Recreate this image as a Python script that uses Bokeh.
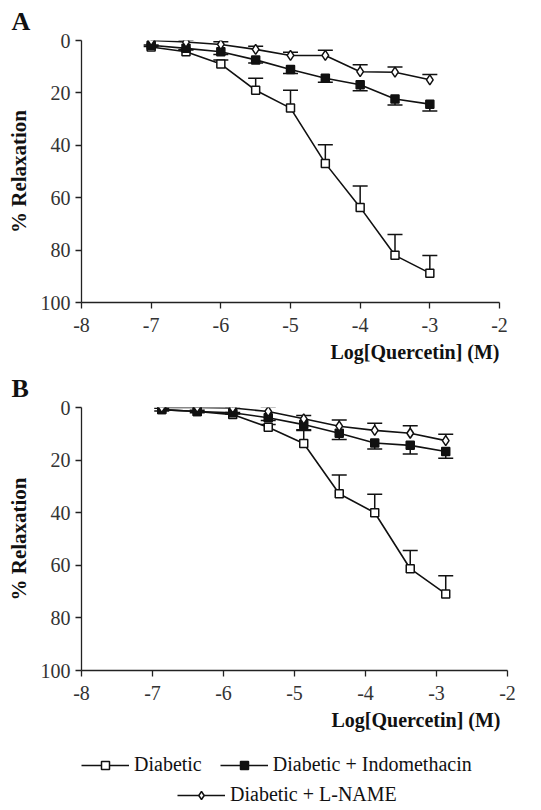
from bokeh.plotting import figure
from bokeh.models import (Range1d, Whisker, TeeHead, ColumnDataSource, Legend,
                          LegendItem, Title, FixedTicker)
from bokeh.layouts import column
from bokeh.embed import file_html
from bokeh.resources import INLINE

FONT = "Liberation Serif"

# ---------------- data ----------------
x_ticks = [-8, -7, -6, -5, -4, -3, -2]
x_tick_labels = ["-8", "-7", "-6", "-5", "-4", "-3", "-2"]
y_ticks = [0, 20, 40, 60, 80, 100]
y_tick_labels = ["0", "20", "40", "60", "80", "100"]

series_names = ["Diabetic", "Diabetic + Indomethacin", "Diabetic + L-NAME"]

# Panel A
logq_a = [-7, -6.5, -6, -5.5, -5, -4.5, -4, -3.5, -3]
diab_a = [2.5, 4.3, 9.0, 19.0, 25.8, 46.9, 63.7, 82.0, 88.8]
diab_a_err = [0.8, 0.8, 1.6, 4.6, 6.8, 7.1, 8.2, 8.0, 6.7]
indo_a = [1.8, 3.0, 4.3, 7.4, 11.1, 14.4, 16.9, 22.3, 24.3]
indo_a_err = [0.5, 0.5, 1.0, 1.2, 1.5, 1.5, 2.3, 2.3, 2.6]
lname_a = [0.0, 0.6, 1.5, 3.4, 5.7, 5.7, 11.9, 12.1, 15.0]
lname_a_err = [0.5, 0.8, 1.0, 1.2, 1.2, 2.0, 2.6, 2.0, 2.0]

# Panel B
logq_b = [-6.87, -6.37, -5.87, -5.37, -4.87, -4.37, -3.87, -3.37, -2.87]
diab_b = [0.8, 1.5, 2.7, 7.5, 13.7, 32.8, 40.0, 61.3, 70.9]
diab_b_err = [0.5, 0.5, 0.8, 1.0, 5.0, 7.1, 7.0, 6.9, 6.9]
indo_b = [0.8, 1.5, 2.0, 3.9, 6.5, 9.8, 13.5, 14.4, 16.7]
indo_b_err = [0.5, 0.5, 0.5, 1.0, 2.0, 2.4, 2.3, 3.3, 2.6]
lname_b = [0.0, 0.0, 0.2, 1.5, 4.3, 7.1, 8.7, 9.8, 12.6]
lname_b_err = [0.5, 0.5, 0.5, 1.8, 1.3, 2.3, 2.7, 2.9, 2.4]

LINE = "#111111"
MARKERS = [dict(marker="square", size=8, fill_color="white"),
           dict(marker="square", size=8, fill_color=LINE),
           dict(marker="diamond", size=10, fill_color="white")]


def panel(letter, xs, diab, diab_err, indo, indo_err, lname, lname_err,
          frame_w, frame_h, top, bottom, xlabel_offset):
    p = figure(frame_width=frame_w, frame_height=frame_h,
               x_range=Range1d(-8, -2), y_range=Range1d(100, 0),
               output_backend="svg", toolbar_location=None,
               min_border_left=81, min_border_right=18,
               min_border_top=top, min_border_bottom=bottom,
               background_fill_color="white", border_fill_color="white")
    p.outline_line_color = None
    p.grid.visible = False

    # panel letter as the (left-aligned) title
    p.title.text = letter
    p.title.align = "left"
    p.title.offset = -70
    p.title.standoff = 9
    p.title.text_font = FONT
    p.title.text_font_size = "26px"
    p.title.text_font_style = "bold"
    p.title.text_color = "#111111"

    p.xaxis.ticker = FixedTicker(ticks=x_ticks)
    p.xaxis.major_label_overrides = dict(zip(x_ticks, x_tick_labels))
    p.yaxis.ticker = FixedTicker(ticks=y_ticks)
    p.yaxis.major_label_overrides = dict(zip(y_ticks, y_tick_labels))
    for ax in (p.xaxis[0], p.yaxis[0]):
        ax.major_tick_out = 6
        ax.major_tick_in = 0
        ax.minor_tick_out = 0
        ax.minor_tick_in = 0
        ax.axis_line_color = "#222222"
        ax.axis_line_width = 1.3
        ax.major_tick_line_color = "#222222"
        ax.major_tick_line_width = 1.3
        ax.major_label_text_font = FONT
        ax.major_label_text_font_size = "20px"
        ax.major_label_text_color = "#333333"
        ax.axis_label_text_font = FONT
        ax.axis_label_text_font_style = "bold"
        ax.axis_label_text_color = "#111111"
        ax.axis_label_standoff = 7
    p.xaxis.major_label_standoff = 9
    p.yaxis.major_label_standoff = 5
    p.yaxis.axis_label = "% Relaxation"
    p.yaxis.axis_label_text_font_size = "21px"

    # x axis label, right-aligned under the axis end
    p.add_layout(Title(text="Log[Quercetin] (M)", align="right",
                       offset=xlabel_offset, standoff=9,
                       text_font=FONT, text_font_size="20px",
                       text_font_style="bold", text_color="#111111"), "below")

    srcs = []
    for ys, errs, down in ((diab, diab_err, False), (indo, indo_err, True),
                           (lname, lname_err, False)):
        if down:
            lo = list(ys)
            hi = [y + e for y, e in zip(ys, errs)]
        else:
            lo = [y - e for y, e in zip(ys, errs)]
            hi = list(ys)
        srcs.append(ColumnDataSource(dict(x=xs, y=ys, lo=lo, hi=hi)))

    # error bars
    for i, s in enumerate(srcs):
        down = (i == 1)
        head = TeeHead(size=15, line_color=LINE, line_width=1.5)
        w = Whisker(source=s, base="x", lower="lo", upper="hi", dimension="height",
                    line_color=LINE, line_width=1.5,
                    lower_head=None if down else head,
                    upper_head=head if down else None)
        p.add_layout(w)

    for s in srcs:
        p.line("x", "y", source=s, line_color=LINE, line_width=1.6)
    for s, m in zip(srcs, MARKERS):
        p.scatter("x", "y", source=s, line_color=LINE, line_width=1.5, **m)
    return p


pa = panel("A", logq_a, diab_a, diab_a_err, indo_a, indo_a_err,
           lname_a, lname_a_err, 418, 262, 39, 60, 0)
pb = panel("B", logq_b, diab_b, diab_b_err, indo_b, indo_b_err,
           lname_b, lname_b_err, 426, 263, 40, 65, 7)

# ---------------- legend strip ----------------
pl = figure(frame_width=440, frame_height=72, x_range=Range1d(0, 1),
            y_range=Range1d(0, 1), x_axis_type=None, y_axis_type=None,
            output_backend="svg", toolbar_location=None,
            min_border_left=80, min_border_right=10,
            min_border_top=0, min_border_bottom=0,
            background_fill_color="white", border_fill_color="white")
pl.outline_line_color = None
pl.grid.visible = False

nan = float("nan")
items = []
for name, m in zip(series_names, MARKERS):
    # proxy renderers (NaN point -> nothing drawn in the plot) for legend glyphs
    proxy = ColumnDataSource(dict(x=[nan], y=[nan]))
    r_line = pl.line("x", "y", source=proxy, line_color=LINE, line_width=1.6)
    r_mark = pl.scatter("x", "y", source=proxy, line_color=LINE, line_width=1.5, **m)
    items.append(LegendItem(label=name, renderers=[r_line, r_mark]))


def mk_legend(its, loc):
    return Legend(items=its, location=loc, orientation="horizontal",
                  glyph_width=48, glyph_height=20, label_height=20,
                  label_standoff=5, spacing=18, padding=0, margin=0,
                  border_line_color=None, background_fill_alpha=0,
                  label_text_font=FONT, label_text_font_size="20px",
                  label_text_color="#111111")


pl.add_layout(mk_legend(items[:2], (0, 31)))
pl.add_layout(mk_legend(items[2:], (96, 1)))

layout = column(pa, pb, pl)
open("out.html", "w").write(file_html(layout, INLINE))
